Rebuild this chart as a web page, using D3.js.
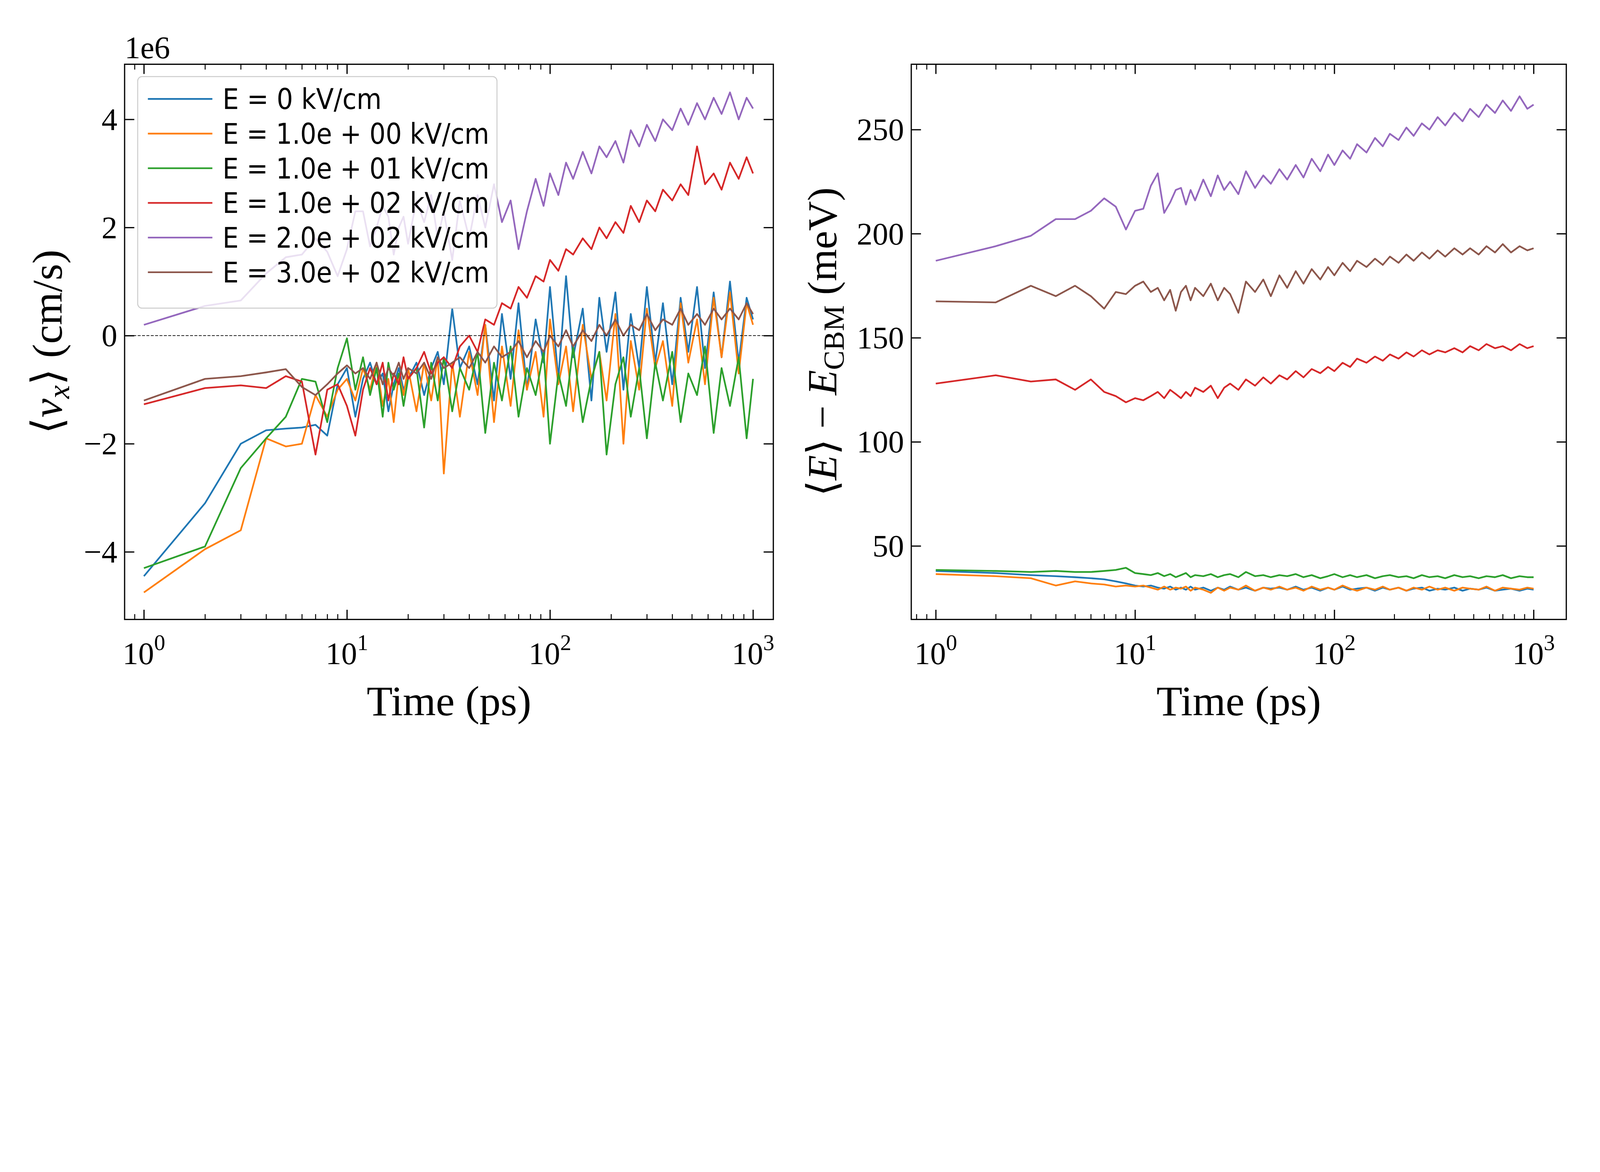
<!DOCTYPE html>
<html><head><meta charset="utf-8">
<script src="https://cdn.jsdelivr.net/npm/d3@7"></script>
<style>html,body{margin:0;padding:0;background:#fff;overflow:hidden}svg{display:block;width:100vw;height:auto}</style></head>
<body><svg id="c" viewBox="0 0 6600 3000" preserveAspectRatio="xMinYMin meet"></svg>
<script>
const times=[1,2,3,4,5,6,7,8,9,10,11,12,13,14,15,16,17,18,19,20,22,24,26,28,30,33,36,40,44,48,53,58,64,70,77,85,93,100,110,120,130,145,160,175,190,210,230,250,275,300,330,360,400,440,480,530,580,640,700,770,850,930,1000];
const labels=["E = 0 kV/cm","E = 1.0e + 00 kV/cm","E = 1.0e + 01 kV/cm","E = 1.0e + 02 kV/cm","E = 2.0e + 02 kV/cm","E = 3.0e + 02 kV/cm"];
const colors=["#1f77b4","#ff7f0e","#2ca02c","#d62728","#9467bd","#8c564b"];
// velocity, units of 1e6 cm/s
const v0=[-4.45,-3.1,-2.0,-1.75,-1.72,-1.7,-1.65,-1.85,-0.9,-0.6,-1.5,-0.8,-0.5,-0.9,-0.7,-1.4,-0.9,-0.6,-1.0,-0.8,-0.5,-1.1,-0.6,-0.3,-0.9,0.5,-0.6,-0.2,-0.9,0.2,-1.2,0.4,-0.8,0.6,-1.0,0.3,-0.5,0.9,-0.8,1.1,-0.4,0.5,-1.2,0.7,-0.3,0.8,-1.0,0.4,-0.6,0.9,-0.5,0.6,-0.9,0.7,-0.3,0.9,-0.6,0.8,-0.4,1.0,-0.5,0.7,0.3];
const v1=[-4.75,-3.95,-3.6,-1.9,-2.05,-2.0,-1.1,-1.5,-1.0,-0.8,-1.2,-0.6,-1.0,-0.5,-1.3,-0.8,-1.6,-0.7,-1.1,-0.6,-1.4,-0.5,-1.2,-0.4,-2.55,-0.5,-1.5,-0.3,-1.1,0.2,-1.6,-0.2,-1.3,0.1,-1.0,-0.3,-1.5,0.3,-0.9,-0.2,-1.4,0.2,-0.8,-0.3,-1.2,0.4,-2.0,-0.1,-1.0,0.5,-0.6,-0.1,-1.3,0.6,-0.5,0.3,-0.9,0.7,-0.4,0.8,-0.7,0.6,0.2];
const v10=[-4.3,-3.9,-2.45,-1.9,-1.5,-0.8,-0.85,-1.6,-0.6,-0.05,-1.0,-0.4,-1.1,-0.6,-1.5,-0.5,-1.0,-0.7,-1.3,-0.8,-0.6,-1.7,-0.5,-1.2,-0.4,-1.4,-0.6,-1.0,-0.3,-1.8,-0.5,-1.2,-0.2,-1.5,-0.6,-1.1,-0.3,-2.0,-0.7,-1.3,-0.2,-1.6,-0.8,-0.3,-2.2,-0.9,-0.4,-1.5,-0.6,-1.9,-0.5,-1.2,-0.3,-1.6,-0.7,-1.1,-0.2,-1.8,-0.6,-1.3,-0.4,-1.9,-0.8];
const v100=[-1.27,-0.97,-0.92,-0.97,-0.75,-0.85,-2.2,-1.0,-0.9,-1.3,-1.85,-1.0,-0.6,-0.9,-0.5,-1.2,-0.7,-0.9,-0.4,-0.8,-0.6,-0.3,-0.7,-0.5,-0.4,-0.6,-0.2,0.0,-0.3,0.3,0.2,0.6,0.5,0.9,0.7,1.1,1.0,1.4,1.2,1.6,1.5,1.8,1.6,2.0,1.8,2.1,1.9,2.4,2.1,2.5,2.3,2.7,2.5,2.8,2.6,3.5,2.8,3.0,2.7,3.2,2.9,3.3,3.0];
const v200=[0.2,0.55,0.65,1.15,1.45,1.5,1.8,1.55,1.1,1.6,2.3,2.3,1.65,2.0,2.4,2.2,1.5,2.0,2.2,1.7,2.5,2.1,2.6,1.8,2.3,1.4,2.5,1.8,2.6,2.0,2.8,2.1,2.5,1.6,2.3,2.9,2.4,3.0,2.6,3.2,2.9,3.4,3.0,3.5,3.3,3.6,3.2,3.8,3.5,3.9,3.6,4.0,3.8,4.2,3.9,4.3,4.0,4.4,4.1,4.5,4.0,4.4,4.2];
const v300=[-1.2,-0.8,-0.75,-0.68,-0.62,-0.95,-1.1,-0.9,-0.7,-0.55,-0.7,-0.6,-0.8,-0.5,-0.9,-0.6,-0.75,-0.5,-0.8,-0.6,-0.7,-0.5,-0.8,-0.4,-0.6,-0.5,-0.4,-0.6,-0.3,-0.5,-0.2,-0.4,-0.3,-0.1,-0.4,-0.1,-0.3,0.0,-0.2,0.1,-0.2,0.1,-0.1,0.2,0.0,0.3,0.0,0.2,0.1,0.4,0.1,0.3,0.2,0.5,0.2,0.4,0.2,0.5,0.3,0.5,0.3,0.6,0.4];
// energy, meV
const e0=[38,37,36,35.5,35,34.5,34,33,32,31,30.5,31,30,29.5,30.5,29,30,29,30.5,29,30,28.5,30,29,30.5,29,30,28.5,30,29.5,30,29,30.5,29,30,28.5,30,29,30.5,29,29.5,30,28.5,30,29,30,28.5,29.5,30,28.5,29.5,29,30,28.5,29.5,29,30,28.5,29,29.5,28.5,29.5,29];
const e1=[36.5,35.5,34.5,31,33,32,31.5,30.5,31,30.5,31,30,29,30.5,29,30,29.5,30.5,28.5,30,29,27.5,30,28.5,30,29,31,28.5,30,29,30.5,29,30,28.5,30.5,29,30,29,31,29.5,28.5,30,29,30.5,29,30,28.5,30,29,30.5,29,30,28.5,30,29.5,29,30.5,28.5,30,29.5,29,30,29.5];
const e10=[38.5,38,37.5,38,37.5,37.5,38,38.5,39.5,37,36.5,36,37,35.5,36.5,35,36,37,35,36,35.5,36.5,35,36,36.5,35,37.5,35.5,36,35,36,35.5,36.5,35,36,34.5,35.5,36.5,35,36,35,36,34.5,35.5,36,35,35.5,34.5,36,35,35.5,34.5,36,35,35.5,34.5,35.5,35,36,34.5,35.5,35,35];
const e100=[128,132,129,130,125,130,124,122,119,121,120,122,124,121,125,123,121,124,122,126,124,127,121,126,128,125,130,127,131,128,132,130,134,131,135,133,136,134,138,136,140,138,141,139,142,140,143,141,144,142,144,143,145,143,146,144,147,145,146,144,147,145,146];
const e200=[187,194,199,207,207,211,217,213,202,211,212,223,229,210,215,221,222,214,221,216,226,218,228,221,225,219,230,222,228,224,231,226,233,227,236,230,238,233,240,236,243,239,246,242,248,245,251,247,253,250,256,252,258,254,260,256,262,258,264,259,266,260,262];
const e300=[167.5,167,175,170,175,170,164,172,171,175,177,172,174,168,173,163,172,175,168,174,170,176,168,174,171,162,177,172,178,170,180,174,182,176,183,178,184,180,186,182,187,184,188,185,189,186,190,187,191,188,192,189,193,190,193,190,194,191,195,191,194,192,193];
const vSeries=[v0,v1,v10,v100,v200,v300];
const eSeries=[e0,e1,e10,e100,e200,e300];
const vTicks=[-4,-2,0,2,4];
const eTicks=[50,100,150,200,250];
const xTicks=[1,10,100,1000];

const svg=d3.select("#c");
const serif="'Liberation Serif','DejaVu Serif',serif";
const TOP=265,BOT=2555;

function panel(x0,x1,xdom,ydom,yticks,series,fmt){
  const g=svg.append("g");
  const x=d3.scaleLog().domain(xdom).range([x0,x1]);
  const y=d3.scaleLinear().domain(ydom).range([BOT,TOP]);
  const clipId="clip"+x0;
  svg.append("clipPath").attr("id",clipId).append("rect").attr("x",x0).attr("y",TOP).attr("width",x1-x0).attr("height",BOT-TOP);
  const minor=[];
  for(let d=0.1;d<=10000;d*=10)for(let k=2;k<=9;k++){const v=d*k;if(v>xdom[0]&&v<xdom[1])minor.push(v);}
  [[d3.axisBottom(x),BOT,-1],[d3.axisTop(x),TOP,1]].forEach(([a,yy,dir])=>{
    g.append("g").attr("transform",`translate(0,${yy})`).call(a.tickValues(minor).tickFormat(""))
     .call(s=>{s.select(".domain").remove();s.selectAll("line").attr("stroke","#000").attr("stroke-width",4).attr("y2",dir*22);});
    g.append("g").attr("transform",`translate(0,${yy})`).call(a.tickValues(xTicks).tickFormat(""))
     .call(s=>{s.select(".domain").remove();s.selectAll("line").attr("stroke","#000").attr("stroke-width",5).attr("y2",dir*40);});
  });
  [[d3.axisLeft(y),x0,1],[d3.axisRight(y),x1,-1]].forEach(([a,xx,dir])=>{
    g.append("g").attr("transform",`translate(${xx},0)`).call(a.tickValues(yticks).tickFormat(""))
     .call(s=>{s.select(".domain").remove();s.selectAll("line").attr("stroke","#000").attr("stroke-width",5).attr("x2",dir*40);});
  });
  xTicks.forEach(t=>{
    const tx=g.append("text").attr("x",x(t)).attr("y",BOT+185).attr("text-anchor","middle").attr("font-family",serif).attr("font-size",130);
    tx.append("tspan").text("10");
    tx.append("tspan").attr("dy",-58).attr("font-size",92).text(Math.log10(t).toFixed(0));
  });
  yticks.forEach(t=>{
    g.append("text").attr("x",x0-30).attr("y",y(t)+44).attr("text-anchor","end").attr("font-family",serif).attr("font-size",130).text(fmt(t));
  });
  const line=d3.line().x((d,i)=>x(times[i])).y(d=>y(d));
  const lg=g.append("g").attr("clip-path",`url(#${clipId})`);
  series.forEach((s,k)=>{
    const n=Math.min(s.length,times.length);
    lg.append("path").attr("d",line(s.slice(0,n))).attr("fill","none").attr("stroke",colors[k]).attr("stroke-width",7).attr("stroke-linejoin","round");
  });
  g.append("rect").attr("x",x0).attr("y",TOP).attr("width",x1-x0).attr("height",BOT-TOP).attr("fill","none").attr("stroke","#000").attr("stroke-width",5);
  g.append("text").attr("x",(x0+x1)/2).attr("y",BOT+395).attr("text-anchor","middle").attr("font-family",serif).attr("font-size",175).text("Time (ps)");
  return {x,y,g};
}

const L=panel(514,3190,[Math.pow(10,-0.095),Math.pow(10,3.1)],[-5.25,5.02],vTicks,vSeries,d=>d<0?"\u2212"+(-d):String(d));
L.g.append("line").attr("x1",514).attr("x2",3190).attr("y1",L.y(0)).attr("y2",L.y(0)).attr("stroke","#000").attr("stroke-width",3).attr("stroke-dasharray","12,6");
svg.append("text").attr("x",514).attr("y",240).attr("font-family",serif).attr("font-size",130).text("1e6");
const yl=svg.append("text").attr("transform",`translate(255,${(TOP+BOT)/2}) rotate(-90)`).attr("text-anchor","middle").attr("font-family",serif).attr("font-size",175);
yl.append("tspan").text("\u27E8");
yl.append("tspan").attr("font-style","italic").text("v");
yl.append("tspan").attr("font-style","italic").attr("font-size",125).attr("dy",30).text("x");
yl.append("tspan").attr("dy",-30).text("\u27E9 (cm/s)");

const R=panel(3759,6461,[Math.pow(10,-0.123),Math.pow(10,3.164)],[14.7,281.4],eTicks,eSeries,d=>String(d));
const yr=svg.append("text").attr("transform",`translate(3450,${(TOP+BOT)/2}) rotate(-90)`).attr("text-anchor","middle").attr("font-family",serif).attr("font-size",170);
yr.append("tspan").text("\u27E8");
yr.append("tspan").attr("font-style","italic").text("E");
yr.append("tspan").text("\u27E9 \u2212 ");
yr.append("tspan").attr("font-style","italic").text("E");
yr.append("tspan").attr("font-size",120).attr("dy",30).text("CBM");
yr.append("tspan").attr("dy",-30).text(" (meV)");

const leg=svg.append("g");
leg.append("rect").attr("x",568).attr("y",316).attr("width",1482).attr("height",955).attr("rx",18).attr("fill","#fff").attr("fill-opacity",0.8).attr("stroke","#ccc").attr("stroke-width",4);
labels.forEach((t,i)=>{
  const yy=408+i*143;
  leg.append("line").attr("x1",610).attr("x2",876).attr("y1",yy).attr("y2",yy).attr("stroke",colors[i]).attr("stroke-width",7);
  const tx=leg.append("text").attr("x",918).attr("y",yy+42).attr("font-family","'DejaVu Sans Condensed','DejaVu Sans',sans-serif").attr("font-size",118).text(t);
  if(i>0) tx.attr("textLength",1100).attr("lengthAdjust","spacingAndGlyphs");
});
</script></body></html>
